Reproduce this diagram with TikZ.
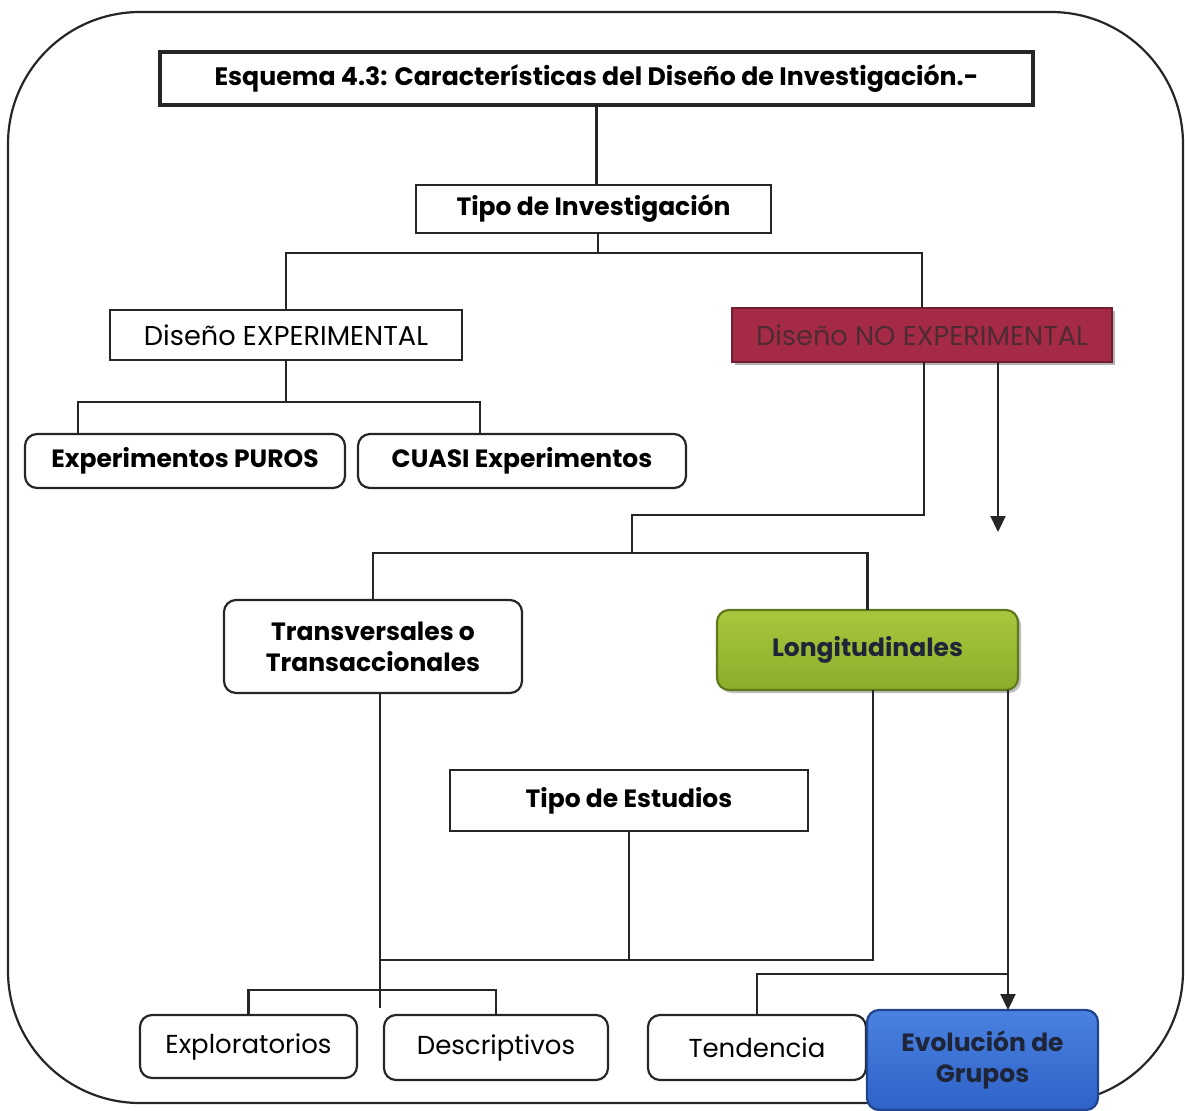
\documentclass[tikz,border=0pt]{standalone}
\usepackage{fontspec}
\setmainfont{Poppins}
\usetikzlibrary{arrows.meta,shadows}
\definecolor{nored}{HTML}{A52A45}
\definecolor{notext}{HTML}{4E2A32}
\definecolor{greenT}{HTML}{A9C73E}
\definecolor{greenB}{HTML}{89AD2A}
\definecolor{blueT}{HTML}{4A82E0}
\definecolor{blueB}{HTML}{2F62C8}
\definecolor{darktext}{HTML}{1F2538}
\tikzset{
  ln/.style={line width=1.1pt, draw=black!85},
  arr/.style={ln, -{Triangle[length=8pt,width=7.5pt]}},
  sq/.style={draw=black!85, line width=1.1pt, inner sep=0pt, outer sep=0pt, align=center, font=\fontsize{13}{15}\selectfont},
  rbox/.style={sq, rounded corners=6pt},
  bd/.style={font=\fontsize{12.5}{15.5}\selectfont\bfseries},
}
\begin{document}
\begin{tikzpicture}[x=0.5pt,y=-0.5pt]
\useasboundingbox (0,0) rectangle (1185,1110);
% outer frame
\draw[ln] (8,12) [rounded corners=66pt] rectangle (1183,1103);
% nodes
\node[sq, line width=1.6pt, minimum width=436.5pt, minimum height=26.5pt, font=\fontsize{12.6}{15}\selectfont\bfseries] (title) at (596.5,78.5) {Esquema 4.3: Características del Diseño de Investigación.-};
\node[sq, minimum width=177.5pt, minimum height=24pt, bd] (tipo) at (593.5,209) {Tipo de Investigación};
\node[sq, minimum width=176pt, minimum height=25pt, font=\fontsize{13.6}{16}\selectfont] (exp) at (286,335) {Diseño EXPERIMENTAL};
\node[sq, draw=nored!70!black, fill=nored, minimum width=190pt, minimum height=27pt, text=notext, font=\fontsize{13.6}{16}\selectfont, drop shadow={shadow xshift=1.5pt,shadow yshift=-1.5pt,opacity=0.6}] (noexp) at (922,335) {Diseño NO EXPERIMENTAL};
\node[rbox, minimum width=160pt, minimum height=27pt, bd] (puros) at (185,461) {Experimentos PUROS};
\node[rbox, minimum width=164pt, minimum height=27pt, bd] (cuasi) at (522,461) {CUASI Experimentos};
\node[rbox, minimum width=149pt, minimum height=46.5pt, bd] (trans) at (373,646.5) {Transversales o\\Transaccionales};
\node[rbox, draw=greenB!70!black, top color=greenT, bottom color=greenB, minimum width=150.5pt, minimum height=40pt, bd, text=darktext, drop shadow={shadow xshift=1.5pt,shadow yshift=-1.5pt,opacity=0.5}] (longi) at (867.5,650) {\raisebox{3pt}{Longitudinales}};
\node[sq, minimum width=179pt, minimum height=30.5pt, bd] (estud) at (629,800.5) {Tipo de Estudios};
\node[rbox, minimum width=108.5pt, minimum height=31.5pt] (explo) at (248.5,1046.5) {Exploratorios};
\node[rbox, minimum width=112pt, minimum height=32.5pt] (desc) at (496,1047.5) {Descriptivos};
\node[rbox, minimum width=109pt, minimum height=32.5pt] (tend) at (757,1047.5) {Tendencia};
\node[rbox, draw=blueB!70!black, top color=blueT, bottom color=blueB, minimum width=115.5pt, minimum height=50pt, bd, text=darktext] (evol) at (982.5,1060) {Evolución de\\Grupos};
% junction coordinates
\coordinate (j1) at (598,253);
\coordinate (j2l) at (78,402);
\coordinate (j2r) at (480,402);
\coordinate (a1) at (924,515);
\coordinate (a2) at (632,553);
\coordinate (c1) at (998,532);
\coordinate (d1) at (380,1008);
\coordinate (e1) at (873,960);
\coordinate (f1) at (380,990);
\coordinate (g1) at (1008,974);
% connectors
\draw[ln] (title.south) -- (title.south |- tipo.north);
\draw[ln] (tipo.south -| j1) -- (j1);
\draw[ln] (exp.north) |- (j1) -| (noexp.north);
\draw[ln] (exp.south) |- (j2l) -- (puros.north -| j2l);
\draw[ln] (exp.south |- j2r) -- (j2r) -- (cuasi.north -| j2r);
\draw[ln] (noexp.south -| a1) -- (a1) -| (a2);
\draw[ln] (trans.north) |- (a2) -| (longi.north);
\draw[arr] (noexp.south -| c1) -- (c1);
\draw[ln] (trans.south -| d1) -- (d1);
\draw[ln] (longi.south -| e1) -- (e1) -- (e1 -| d1);
\draw[ln] (estud.south) -- (estud.south |- e1);
\draw[ln] (explo.north) |- (f1) -| (desc.north);
\draw[arr] (longi.south -| g1) -- (evol.north -| g1);
\draw[ln] (tend.north) |- (g1);
\end{tikzpicture}
\end{document}
